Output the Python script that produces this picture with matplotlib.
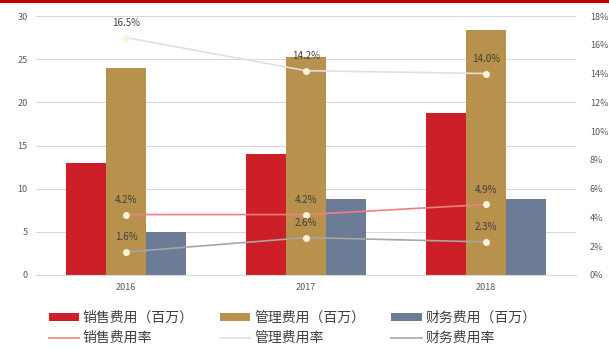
import numpy as np
import matplotlib.pyplot as plt
from matplotlib.lines import Line2D

plt.rcParams['font.family'] = ['Noto Sans CJK SC', 'DejaVu Sans']

years = ['2016', '2017', '2018']
# expenses, million
sales_exp = [13.0, 14.0, 18.8]
admin_exp = [24.0, 25.2, 28.4]
fin_exp = [5.0, 8.8, 8.8]
# expense ratios, %
sales_rate = [4.2, 4.2, 4.9]
admin_rate = [16.5, 14.2, 14.0]
fin_rate = [1.6, 2.6, 2.3]

c_red = '#CC1F27'
c_gold = '#B8914D'
c_blue = '#6C7C97'

fig = plt.figure(figsize=(6.09, 3.49), dpi=100)
ax = fig.add_axes([36 / 609, 1 - 275 / 349, 540 / 609, 259 / 349])
ax2 = ax.twinx()

# red rule across the top
fig.add_artist(Line2D([0, 1], [0.997, 0.997], color='#C00000', lw=3,
                      transform=fig.transFigure))

x = np.arange(len(years))
w = 0.222
ax.bar(x - w, sales_exp, w, color=c_red, label='销售费用（百万）', zorder=2)
ax.bar(x, admin_exp, w, color=c_gold, label='管理费用（百万）', zorder=2)
ax.bar(x + w, fin_exp, w, color=c_blue, label='财务费用（百万）', zorder=2)

ax.set_xlim(-0.5, 2.5)
ax.set_ylim(0, 30)
ax.set_yticks(range(0, 31, 5))
ax.grid(axis='y', color='#D9D9D9', lw=0.8, zorder=0)
ax.set_xticks(x)
ax.set_xticklabels(years)
for s in ax.spines.values():
    s.set_visible(False)
for s in ax2.spines.values():
    s.set_visible(False)
ax.spines['bottom'].set_visible(True)
ax.spines['bottom'].set_color('#D9D9D9')
ax.tick_params(length=0, labelsize=6.5, colors='#595959', pad=6)

ax2.set_ylim(0, 18)
ax2.set_yticks(range(0, 19, 2))
ax2.set_yticklabels(['%d%%' % v for v in range(0, 19, 2)])
ax2.tick_params(length=0, labelsize=6.5, colors='#595959', pad=10)

mk = dict(marker='o', ms=4, mfc='#FFF2D6', mec='#FFF2D6')
rate_colors = ['#F08080', '#E0E0E0', '#A6A6A6']
rate_names = ['销售费用率', '管理费用率', '财务费用率']
lines = []
for series, col, name in zip((sales_rate, admin_rate, fin_rate),
                             rate_colors, rate_names):
    ax2.plot(x, series, color=col, lw=1.2, **mk)
    lines.append(Line2D([], [], color=col, lw=1.2, label=name))
    for xi, v in zip(x, series):
        ax2.annotate('%.1f%%' % v, (xi, v), xytext=(0, 7),
                     textcoords='offset points', ha='center', va='bottom',
                     fontsize=7, color='#404040')

hb, lb = ax.get_legend_handles_labels()
handles = [hb[0], lines[0], hb[1], lines[1], hb[2], lines[2]]
labels = [lb[0], rate_names[0], lb[1], rate_names[1], lb[2], rate_names[2]]
fig.legend(handles, labels, ncol=3, loc='lower left',
           bbox_to_anchor=(36 / 609, -0.025), frameon=False, fontsize=10,
           labelcolor='#404040', handlelength=2.2, handleheight=0.55,
           columnspacing=1.9, labelspacing=0.45, handletextpad=0.25)

fig.savefig('out.png', dpi=100)
